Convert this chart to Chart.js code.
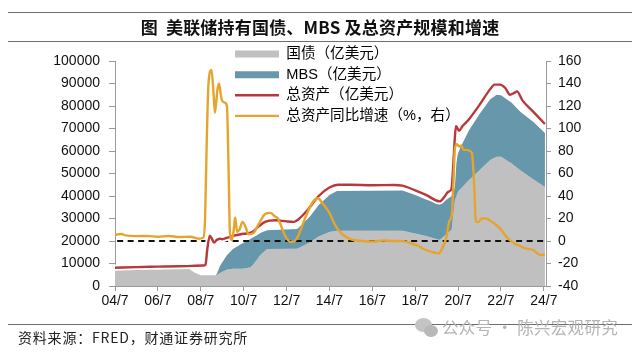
<!DOCTYPE html>
<html><head><meta charset="utf-8">
<script src="https://cdn.jsdelivr.net/npm/chart.js@4.4.1/dist/chart.umd.min.js"></script>
<style>
html,body{margin:0;padding:0;background:#fff;}
#wrap{position:relative;width:640px;height:352px;overflow:hidden;font-family:"Noto Sans CJK SC","Noto Sans",sans-serif;}
#c{position:absolute;left:0;top:0;}
.hr{position:absolute;left:8px;width:624px;height:0;border-top:1.5px solid #6e6e6e;}
#title{position:absolute;left:0;width:640px;top:15px;text-align:center;font-weight:bold;font-size:17px;line-height:24px;color:#111;letter-spacing:0.2px;}
#src{position:absolute;left:18px;top:327px;font-size:14px;line-height:20px;color:#222;letter-spacing:0.8px;}
#wm{position:absolute;left:442px;top:316px;font-size:16.5px;line-height:22px;color:#b4b4b4;letter-spacing:0.3px;}
.ic{position:absolute;border-radius:50%;background:#c4c4c4;}
</style></head>
<body><div id="wrap">
<canvas id="c" width="640" height="352"></canvas>
<div class="hr" style="top:12px"></div>
<div id="title">图&nbsp;&nbsp;美联储持有国债、MBS 及总资产规模和增速</div>
<div class="hr" style="top:41px"></div>
<div class="hr" style="top:324px"></div>
<div id="src">资料来源：FRED，财通证券研究所</div>
<div class="ic" style="left:415px;top:318px;width:17px;height:14px"></div>
<div class="ic" style="left:424px;top:325px;width:14px;height:12px;background:#b8b8b8"></div>
<div id="wm">公众号 · 陈兴宏观研究</div>
</div>
<script>
// ---- data ----
const tickYears  = [2004.5,2006.5,2008.5,2010.5,2012.5,2014.5,2016.5,2018.5,2020.5,2022.5,2024.5];
const tickLabels = ['04/7','06/7','08/7','10/7','12/7','14/7','16/7','18/7','20/7','22/7','24/7'];
const legendNames = ['国债（亿美元）','MBS（亿美元）','总资产（亿美元）','总资产同比增速（%，右）'];

const dates = [2004.5,2005.5,2006.5,2007.5,2007.95,2008.2,2008.5,2009.2,2009.25,2009.4,2009.7,2010.0,2010.45,2010.8,2010.9,2011.1,2011.3,2011.6,2013.0,2013.6,2014.0,2014.5,2014.85,2017.9,2018.5,2019.0,2019.65,2020.0,2020.2,2020.35,2020.5,2020.6,2021.0,2021.5,2022.0,2022.3,2022.5,2023.0,2023.4,2024.0,2024.55];
const treasury = [7300,7400,7600,7800,7700,6000,4800,4800,4900,5800,7200,7700,7700,8200,9000,11500,14000,16400,16600,19500,22000,24000,24600,24600,23300,22200,20500,23500,25000,38000,42000,43000,47000,51500,56000,57500,57400,54500,51500,47500,44000];
const mbs      = [0,0,0,0,0,0,0,0,600,3200,6300,8800,11300,12600,12500,11000,9700,8400,8700,11500,14000,16500,17600,17900,17200,16300,15800,15200,15000,14000,17000,18500,22000,25000,27000,27500,27400,27000,26000,25500,24000];

const assetDates  = [2004.5,2005.5,2006.5,2007.5,2008.6,2008.72,2008.8,2008.92,2009.02,2009.12,2009.25,2009.4,2009.5,2009.75,2010.0,2010.5,2010.9,2011.2,2011.5,2012.0,2012.5,2012.85,2013.0,2013.5,2014.0,2014.5,2014.9,2015.5,2016.5,2017.5,2017.9,2018.5,2019.0,2019.65,2019.85,2020.0,2020.15,2020.2,2020.27,2020.35,2020.4,2020.45,2020.55,2020.7,2021.0,2021.5,2022.0,2022.2,2022.45,2022.7,2022.92,2023.12,2023.25,2023.5,2024.0,2024.3,2024.55];
const totalAssets = [8100,8400,8600,8800,9100,9400,16000,22300,21000,19300,20500,21000,20800,21500,22300,23200,24000,26500,28500,29200,28700,28500,29200,34000,40000,43800,45000,45000,44800,44900,44600,42500,40500,37600,39500,41500,42500,43600,53000,66000,71000,70500,69000,71000,74000,80500,87500,89500,89500,88000,85000,85800,86500,82500,77500,74500,72000];

const growthDates = [2004.5,2004.8,2005.0,2005.5,2006.0,2006.5,2007.0,2007.5,2008.0,2008.4,2008.62,2008.7,2008.78,2008.86,2009.0,2009.1,2009.16,2009.28,2009.35,2009.42,2009.49,2009.62,2009.72,2009.8,2009.86,2009.95,2010.05,2010.1,2010.2,2010.3,2010.45,2010.6,2010.72,2010.95,2011.2,2011.5,2011.75,2011.95,2012.1,2012.4,2012.6,2012.75,2013.0,2013.4,2013.7,2013.95,2014.2,2014.5,2014.8,2015.1,2015.5,2016.0,2016.5,2017.0,2017.5,2017.9,2018.3,2018.6,2019.0,2019.35,2019.6,2019.75,2019.95,2020.1,2020.2,2020.3,2020.35,2020.45,2020.55,2020.65,2020.75,2020.9,2021.05,2021.15,2021.25,2021.33,2021.45,2021.6,2021.8,2022.0,2022.3,2022.55,2022.7,2022.9,2023.05,2023.2,2023.35,2023.55,2023.75,2024.0,2024.2,2024.35,2024.55];
const growth      = [5.5,6.2,5,4.3,4.5,3.8,4.5,3.5,3.8,2,3,20,90,140,152,130,114,135,140,132,125,123,120,60,7,1,12,21,8,10,17,12,6,7,15,24,25,22,20,6,0,-1,3,22,34,38,33,25,13,6,1.5,0,-0.5,0.5,0,0,-2,-4,-8,-10,-11,-7,3,18,22,60,82,86,84,85,81,81,80,78,50,17,17,20,20,18,14,9,5,1,-1,-3,-4,-6,-7,-8,-11,-12.5,-12];

const zeroLine = [{x:2004.6,y:0},{x:2024.5,y:0}];

// ---- build ----
const pts = (xs, ys) => xs.map((x,i)=>({x, y: ys[i]}));
const securitiesTop = treasury.map((v,i)=>v + mbs[i]);

const C = {gray:'#c0c0c0', blue:'#6797aa', red:'#b8383b', orange:'#e6a42c'};
const tickFont = {family:'"Liberation Sans", Arial, sans-serif', size:14};

const legendPos = {
  id:'legendPos',
  afterLayout(chart){
    const lg = chart.legend; if(!lg) return;
    lg.left = 229; lg.right = 580; lg.top = 36; lg.bottom = 134;
    lg.width = lg.right - lg.left; lg.height = lg.bottom - lg.top;
  }
};

new Chart(document.getElementById('c'), {
  type:'line',
  data:{datasets:[
    {label:legendNames[0], data:pts(dates,treasury), backgroundColor:C.gray, borderWidth:0, fill:'origin', pointRadius:0, order:5, yAxisID:'y'},
    {label:legendNames[1], data:pts(dates,securitiesTop), backgroundColor:C.blue, borderWidth:0, fill:0, pointRadius:0, order:4, yAxisID:'y'},
    {label:'zero', data:zeroLine, borderColor:'#111', borderWidth:1.8, borderDash:[6,4.5], fill:false, pointRadius:0, order:3, yAxisID:'y1'},
    {label:'halo', data:pts(assetDates,totalAssets), borderColor:'#ffffff', borderWidth:6, fill:false, pointRadius:0, order:2, yAxisID:'y', cubicInterpolationMode:'monotone'},
    {label:legendNames[2], data:pts(assetDates,totalAssets), borderColor:C.red, borderWidth:2.4, fill:false, pointRadius:0, order:1, yAxisID:'y', cubicInterpolationMode:'monotone'},
    {label:legendNames[3], data:pts(growthDates,growth), borderColor:C.orange, borderWidth:2.4, fill:false, pointRadius:0, order:0, yAxisID:'y1', cubicInterpolationMode:'monotone'}
  ]},
  options:{
    responsive:false, animation:false, devicePixelRatio:1,
    layout:{padding:{top:61,left:0,right:0,bottom:0}},
    plugins:{
      tooltip:{enabled:false},
      legend:{
        position:'chartArea',
        labels:{
          usePointStyle:true, pointStyleWidth:44, boxHeight:7, padding:6,
          color:'#222', font:{family:'"Liberation Sans","Noto Sans CJK SC",sans-serif', size:14.6},
          generateLabels(){
            return [
              {text:legendNames[0], fillStyle:C.gray, strokeStyle:C.gray, lineWidth:0, pointStyle:'rect', hidden:false, datasetIndex:0},
              {text:legendNames[1], fillStyle:C.blue, strokeStyle:C.blue, lineWidth:0, pointStyle:'rect', hidden:false, datasetIndex:1},
              {text:legendNames[2], fillStyle:C.red, strokeStyle:C.red, lineWidth:2.4, pointStyle:'line', hidden:false, datasetIndex:4},
              {text:legendNames[3], fillStyle:C.orange, strokeStyle:C.orange, lineWidth:2.4, pointStyle:'line', hidden:false, datasetIndex:5}
            ];
          }
        }
      }
    },
    scales:{
      x:{type:'linear', min:2004.5, max:2024.6,
        afterBuildTicks:s=>{ s.ticks = tickYears.map(v=>({value:v})); },
        afterFit:s=>{ s.height = 66; },
        ticks:{autoSkip:false, maxRotation:0, padding:2, color:'#111', font:tickFont,
          callback:v=>tickLabels[tickYears.indexOf(v)]},
        grid:{drawOnChartArea:false, drawTicks:true, tickLength:5, color:'#9a9a9a'},
        border:{color:'#9a9a9a'}
      },
      y:{position:'left', min:0, max:100000,
        afterFit:s=>{ s.width = 115; },
        ticks:{stepSize:10000, padding:9, color:'#111', font:tickFont, callback:v=>String(v)},
        grid:{drawOnChartArea:false, drawTicks:true, tickLength:6, color:'#9a9a9a'},
        border:{color:'#9a9a9a'}
      },
      y1:{position:'right', min:-40, max:160,
        afterFit:s=>{ s.width = 94; },
        ticks:{stepSize:20, padding:7, color:'#111', font:tickFont, callback:v=>String(v)},
        grid:{drawOnChartArea:false, drawTicks:true, tickLength:5, color:'#9a9a9a'},
        border:{color:'#9a9a9a'}
      }
    }
  },
  plugins:[legendPos]
});
</script>
</body></html>
